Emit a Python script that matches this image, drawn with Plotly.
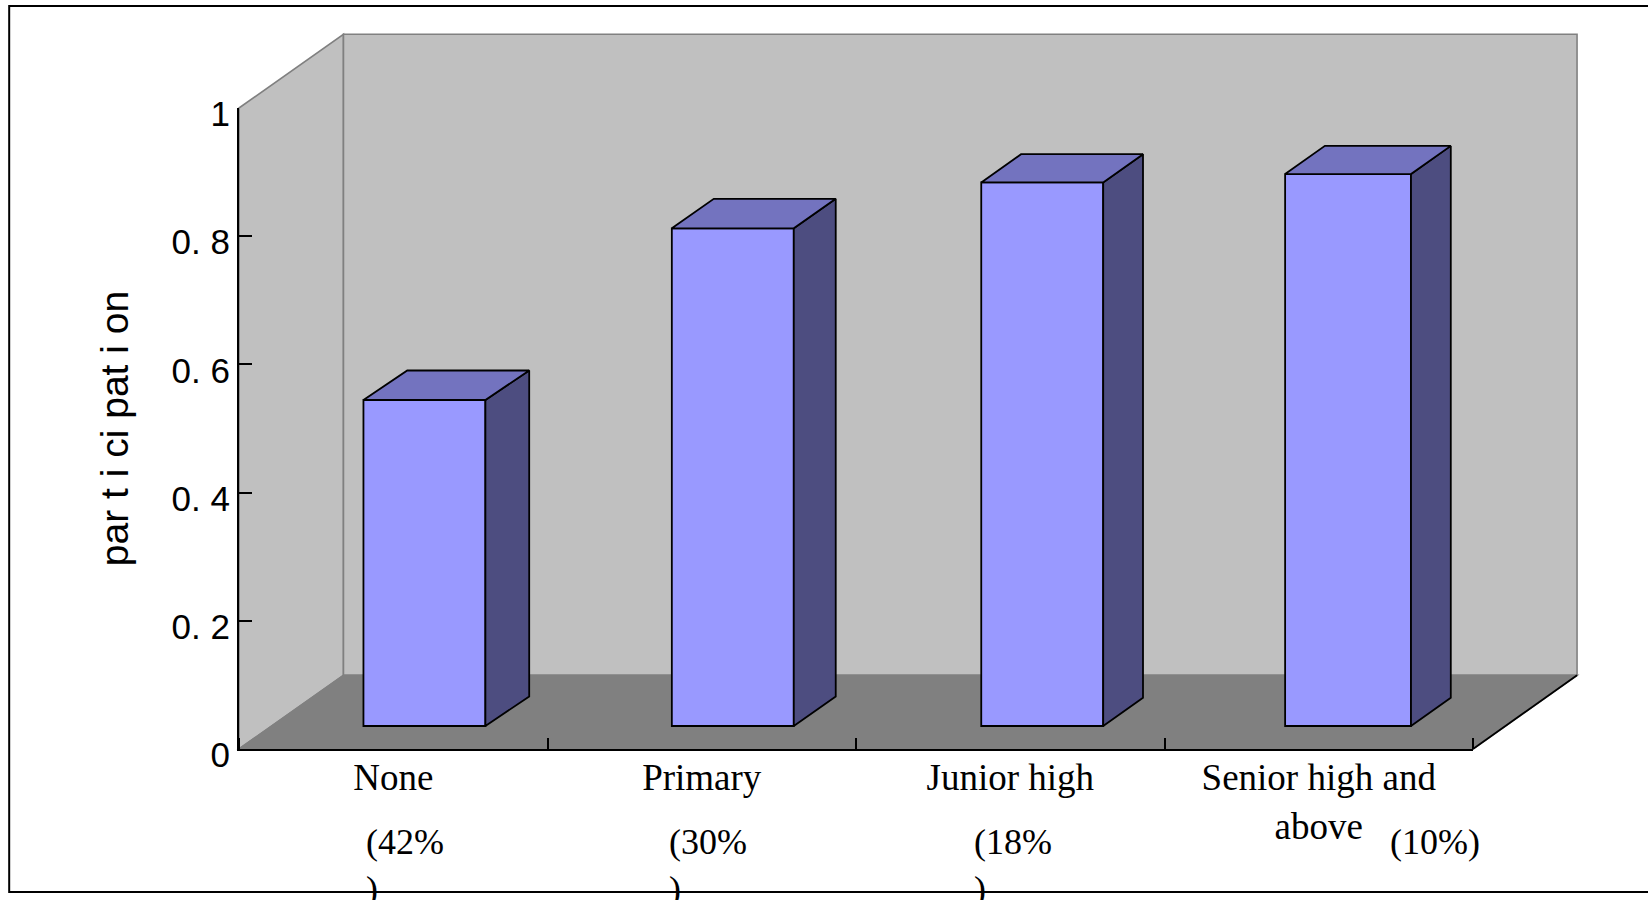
import plotly.graph_objects as go

# Education categories with their population share, and the participation rate of each.
categories = ["None", "Primary", "Junior high", "Senior high and<br>above"]
share_labels = ["(42%<br>)", "(30%<br>)", "(18%<br>)", "(10%)"]
participation = [0.5086, 0.7764, 0.848, 0.861]

y_ticks = [0, 0.2, 0.4, 0.6, 0.8, 1]
y_tick_labels = ["0", "0. 2", "0. 4", "0. 6", "0. 8", "1"]
y_title = "par t i ci pat i on"

# Box geometry in axis units: one x unit is one category, one y unit is the full scale.
bar_left = [0.4034, 1.403, 2.406, 3.391]
bar_width = [0.3953, 0.3953, 0.3953, 0.408]
depth_x = [0.142, 0.136, 0.129, 0.129]
depth_y = [0.046, 0.046, 0.044, 0.044]
floor_level = 0.0359
share_x = [0.407, 1.392, 2.379, 3.727]
share_y = -0.1118

# Room geometry, also in axis units.
room_dx_left = 0.3386
room_dx_right = 0.3373
room_dy = 0.115

FRONT = "#9999FF"
TOP = "#7373BF"
SIDE = "#4D4D80"
WALL = "#C0C0C0"
FLOOR = "#808080"


def paper_path(points):
    """SVG path in paper fractions from points in axis units (x range 0-4, y range 0-1)."""
    body = " L ".join(f"{x / 4:.5f} {y:.5f}" for x, y in points)
    return f"M {body} Z"


def room_shape(points, fill, line):
    return dict(
        type="path", xref="paper", yref="paper", layer="below",
        path=paper_path(points), fillcolor=fill, line=dict(color=line, width=1.6),
    )


back_x0 = room_dx_left
back_x1 = 4 + room_dx_right
back_y1 = 1 + room_dy

shapes = [
    room_shape([(0, 0), (back_x0, room_dy), (back_x0, back_y1), (0, 1)], WALL, FLOOR),
    room_shape([(back_x0, room_dy), (back_x1, room_dy), (back_x1, back_y1), (back_x0, back_y1)], WALL, FLOOR),
    room_shape([(0, 0), (4, 0), (back_x1, room_dy), (back_x0, room_dy)], FLOOR, FLOOR),
    # Dark front-right edge of the floor.
    dict(type="line", xref="paper", yref="paper", layer="below",
         x0=1, y0=0, x1=back_x1 / 4, y1=room_dy, line=dict(color="black", width=1.8)),
    # Outer frame; its right side runs off the page.
    dict(type="rect", xref="paper", yref="paper", layer="below",
         x0=-0.18623, x1=1.2, y0=-0.2231, y1=1.1591,
         line=dict(color="black", width=2), fillcolor="rgba(0,0,0,0)"),
]

fig = go.Figure()

# Front faces.
fig.add_trace(go.Bar(
    x=[l + w / 2 for l, w in zip(bar_left, bar_width)],
    y=participation,
    base=floor_level,
    width=bar_width,
    marker=dict(color=FRONT, line=dict(color="black", width=1.8)),
    hoverinfo="skip",
))

# Side and top faces of each box.
for left, width, value, dx, dy in zip(bar_left, bar_width, participation, depth_x, depth_y):
    right = left + width
    top = floor_level + value
    fig.add_trace(go.Scatter(
        x=[right, right + dx, right + dx, right, right],
        y=[floor_level, floor_level + dy, top + dy, top, floor_level],
        mode="lines", fill="toself", fillcolor=SIDE,
        line=dict(color="black", width=1.8), hoverinfo="skip",
    ))
    fig.add_trace(go.Scatter(
        x=[left, right, right + dx, left + dx, left],
        y=[top, top, top + dy, top + dy, top],
        mode="lines", fill="toself", fillcolor=TOP,
        line=dict(color="black", width=1.8), hoverinfo="skip",
    ))

annotations = [
    dict(
        x=x / 4, y=share_y, xref="paper", yref="paper", text=label, showarrow=False,
        xanchor="left", yanchor="top", align="left", borderpad=0,
        font=dict(family="Liberation Serif", size=36, color="black"),
    )
    for x, label in zip(share_x, share_labels)
]

fig.update_layout(
    width=1648, height=900, autosize=False,
    margin=dict(l=238.5, r=175, t=107.7, b=151.3, pad=0),
    paper_bgcolor="white", plot_bgcolor="rgba(0,0,0,0)",
    showlegend=False, shapes=shapes, annotations=annotations,
    xaxis=dict(
        range=[0, 4], tickmode="array",
        tickvals=[0.5, 1.5, 2.5, 3.5], ticktext=categories,
        ticks="", ticklabelstandoff=-5, showgrid=False, zeroline=False,
        showline=True, linecolor="black", linewidth=2,
        tickfont=dict(family="Liberation Serif", size=37, color="black"),
        minor=dict(tickmode="array", tickvals=[0, 1, 2, 3, 4], ticks="inside",
                   ticklen=11, tickcolor="black", tickwidth=1.5, showgrid=False),
    ),
    yaxis=dict(
        range=[0, 1], tickmode="array",
        tickvals=y_ticks, ticktext=y_tick_labels,
        ticks="inside", ticklen=13, tickcolor="black", tickwidth=1.5,
        ticklabelshift=6, showgrid=False, zeroline=False,
        showline=True, linecolor="black", linewidth=2,
        tickfont=dict(family="Liberation Sans", size=35, color="black"),
        title=dict(text=y_title, standoff=31,
                   font=dict(family="Liberation Sans", size=39, color="black")),
    ),
)

fig.write_html("out.html", config=dict(displayModeBar=False))
